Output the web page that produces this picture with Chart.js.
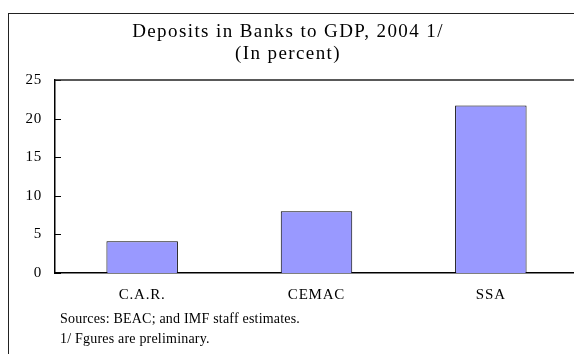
<!DOCTYPE html>
<html>
<head>
<meta charset="utf-8">
<title>Deposits in Banks to GDP</title>
<script src="https://cdn.jsdelivr.net/npm/chart.js@4/dist/chart.umd.min.js"></script>
<style>
  html, body { margin: 0; padding: 0; background: #fff; overflow: hidden; }
  #frame {
    position: absolute; left: 8px; top: 13px; width: 620px; height: 400px;
    border-left: 1.5px solid #222; border-top: 1.5px solid #222;
  }
  #chart { position: absolute; left: 0; top: 0; }
</style>
</head>
<body>
<div id="frame"></div>
<canvas id="chart" width="578" height="354"></canvas>
<script>
// Datos del gráfico
const categorias = ['C.A.R.', 'CEMAC', 'SSA'];
const depositos = [4.1, 8.0, 21.7];
const titulo = ['Deposits in Banks to GDP, 2004 1/', '(In percent)'];
const notas = ['Sources: BEAC; and IMF staff estimates.', '1/ Fgures are preliminary.'];

const fuente = '"Liberation Serif", "Times New Roman", serif';

// Espaciado de letras para las etiquetas de los ejes
const espaciado = {
    id: 'espaciado',
    beforeDraw(chart) {
        chart.ctx.letterSpacing = '0.8px';
    }
};

// Título, notas y marcas de los ejes
const textosExtra = {
    id: 'textosExtra',
    afterDraw(chart) {
        const ctx = chart.ctx;
        const area = chart.chartArea;
        ctx.save();
        ctx.fillStyle = '#000';
        ctx.textBaseline = 'alphabetic';

        ctx.textAlign = 'center';
        ctx.letterSpacing = '1.4px';
        ctx.font = '19px ' + fuente;
        ctx.fillText(titulo[0], 288, 37);
        ctx.fillText(titulo[1], 288, 59);

        ctx.textAlign = 'left';
        ctx.letterSpacing = '0.2px';
        ctx.font = '14px ' + fuente;
        ctx.fillText(notas[0], 60, 323);
        ctx.fillText(notas[1], 60, 343);

        // marcas hacia dentro del eje Y
        const y = chart.scales.y;
        ctx.strokeStyle = '#000';
        ctx.lineWidth = 1;
        y.ticks.forEach((t, i) => {
            const py = Math.round(y.getPixelForTick(i)) + 0.5;
            ctx.beginPath();
            ctx.moveTo(area.left, py);
            ctx.lineTo(area.left + 6, py);
            ctx.stroke();
        });

        // borde superior del área de trazado
        ctx.strokeStyle = '#222';
        ctx.lineWidth = 1.5;
        ctx.beginPath();
        ctx.moveTo(area.left, area.top);
        ctx.lineTo(area.right, area.top);
        ctx.stroke();
        ctx.restore();
    }
};

const ctx = document.getElementById('chart').getContext('2d');
new Chart(ctx, {
    type: 'bar',
    data: {
        labels: categorias,
        datasets: [{
            label: 'Deposits',
            data: depositos,
            backgroundColor: '#9999ff',
            borderColor: '#000',
            borderWidth: 1,
            categoryPercentage: 1,
            barPercentage: 0.41
        }]
    },
    options: {
        responsive: false,
        animation: false,
        layout: { padding: { top: 80, left: 0, right: 0, bottom: 0 } },
        plugins: {
            legend: { display: false },
            tooltip: { enabled: false },
            title: { display: false }
        },
        scales: {
            x: {
                grid: { display: false, drawTicks: false },
                border: { display: true, color: '#000', width: 1.5 },
                ticks: { color: '#000', font: { family: fuente, size: 15 }, padding: 13 },
                afterFit(scale) { scale.height = 81; }
            },
            y: {
                min: 0,
                max: 25,
                grid: { display: false, drawTicks: false },
                border: { display: true, color: '#000', width: 1.5 },
                ticks: { stepSize: 5, color: '#000', font: { family: fuente, size: 15 }, padding: 13 },
                afterFit(scale) { scale.width = 55; }
            }
        }
    },
    plugins: [espaciado, textosExtra]
});
</script>
</body>
</html>
